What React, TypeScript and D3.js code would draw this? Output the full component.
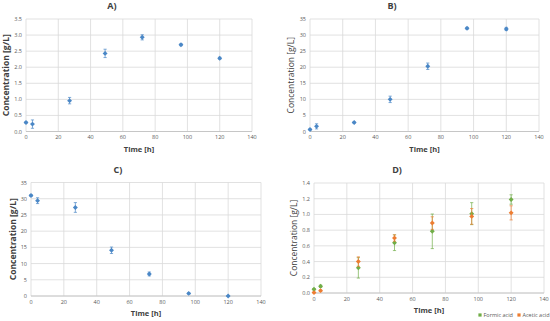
import React from "react";
import * as d3 from "d3";

const times = [0, 4, 27, 49, 72, 96, 120];
const xTicks = [0, 20, 40, 60, 80, 100, 120, 140];

const aValues = [0.28, 0.23, 0.96, 2.43, 2.93, 2.7, 2.28];
const aErrors = [0.02, 0.13, 0.1, 0.13, 0.08, 0.03, 0.03];
const aTicks = [0, 0.5, 1, 1.5, 2, 2.5, 3, 3.5];

const bValues = [0.6, 1.6, 2.8, 10.0, 20.3, 32.1, 31.9];
const bErrors = [0.2, 0.8, 0.2, 1.0, 1.0, 0.3, 0.5];
const bTicks = [0, 5, 10, 15, 20, 25, 30, 35];

const cValues = [31.0, 29.4, 27.3, 14.1, 6.8, 0.8, 0.0];
const cErrors = [0.3, 0.9, 1.5, 1.0, 0.6, 0.2, 0.1];
const cTicks = [0, 5, 10, 15, 20, 25, 30, 35];

const formicValues = [0.047, 0.085, 0.32, 0.64, 0.785, 1.01, 1.19];
const formicErrors = [0.01, 0.015, 0.13, 0.1, 0.22, 0.14, 0.06];
const aceticValues = [0.005, 0.03, 0.4, 0.7, 0.89, 0.975, 1.02];
const aceticErrors = [0.005, 0.01, 0.06, 0.04, 0.08, 0.1, 0.09];
const dTicks = [0, 0.2, 0.4, 0.6, 0.8, 1.0, 1.2, 1.4];

const seriesNames = ["Formic acid", "Acetic acid"];

const BLUE = "#4a87c6";
const GREEN = "#70ad47";
const ORANGE = "#ed7d31";
const GRID = "#d9d9d9";
const TICK = "#595959";
const FONT = "'Open Sans', 'Liberation Sans', sans-serif";

type Series = { values: number[]; errors: number[]; color: string };

function Panel(props: {
  title: string;
  titleX: number;
  titleY: number;
  x0: number;
  x1: number;
  y0: number;
  y1: number;
  yMax: number;
  yTicks: number[];
  yFmt: (v: number) => string;
  series: Series[];
  ylabX: number;
  boldY: boolean;
}) {
  const { x0, x1, y0, y1 } = props;
  const x = d3.scaleLinear().domain([0, 140]).range([x0, x1]);
  const y = d3.scaleLinear().domain([0, props.yMax]).range([y1, y0]);
  const diamond = d3.symbol().type(d3.symbolSquare).size(12)();
  return (
    <g>
      <text x={props.titleX} y={props.titleY} fontSize={9} fontWeight="bold" fill="#404040" textAnchor="middle" fontFamily={FONT}>
        {props.title}
      </text>
      {props.yTicks.map((t) => (
        <line key={"h" + t} x1={x0} x2={x1} y1={y(t)} y2={y(t)} stroke={GRID} strokeWidth={0.8} />
      ))}
      {xTicks.map((t) => (
        <line key={"v" + t} x1={x(t)} x2={x(t)} y1={y0} y2={y1} stroke={GRID} strokeWidth={0.8} />
      ))}
      <line x1={x0} x2={x1} y1={y1} y2={y1} stroke="#bfbfbf" strokeWidth={0.8} />
      {props.yTicks.map((t) => (
        <text key={"yl" + t} x={x0 - 4} y={y(t) + 2} fontSize={5.5} fill={TICK} textAnchor="end" fontFamily={FONT}>
          {props.yFmt(t)}
        </text>
      ))}
      {xTicks.map((t) => (
        <text key={"xl" + t} x={x(t)} y={y1 + 7.5} fontSize={5.5} fill={TICK} textAnchor="middle" fontFamily={FONT}>
          {t}
        </text>
      ))}
      <text x={(x0 + x1) / 2} y={y1 + 20} fontSize={7.5} fontWeight="bold" fill="#404040" textAnchor="middle" fontFamily={FONT}>
        Time [h]
      </text>
      <text
        transform={`translate(${props.ylabX},${(y0 + y1) / 2}) rotate(-90)`}
        fontSize={8.5}
        fontWeight={props.boldY ? "bold" : "normal"}
        fill="#404040"
        textAnchor="middle"
        fontFamily={FONT}
      >
        Concentration [g/L]
      </text>
      {props.series.map((s, si) => (
        <g key={"s" + si}>
          {times.map((t, i) => {
            const cx = x(t);
            const lo = y(s.values[i] - s.errors[i]);
            const hi = y(s.values[i] + s.errors[i]);
            return (
              <g key={i}>
                <line x1={cx} x2={cx} y1={lo} y2={hi} stroke={s.color} strokeWidth={0.7} />
                <line x1={cx - 1.6} x2={cx + 1.6} y1={lo} y2={lo} stroke={s.color} strokeWidth={0.7} />
                <line x1={cx - 1.6} x2={cx + 1.6} y1={hi} y2={hi} stroke={s.color} strokeWidth={0.7} />
                <path d={diamond!} transform={`translate(${cx},${y(s.values[i])}) rotate(45)`} fill={s.color} />
              </g>
            );
          })}
        </g>
      ))}
    </g>
  );
}

export default function App() {
  const f1 = (v: number) => v.toFixed(1);
  const f0 = (v: number) => String(v);
  return (
    <svg width={550} height={321} style={{ position: "absolute", left: 0, top: 0, background: "#fff" }}>
      <Panel title="A)" titleX={112} titleY={9} x0={26} x1={252} y0={19} y1={131.5} yMax={3.5} yTicks={aTicks} yFmt={f1}
        series={[{ values: aValues, errors: aErrors, color: BLUE }]} ylabX={9} boldY={true} />
      <Panel title="B)" titleX={392} titleY={9} x0={310} x1={539} y0={19} y1={131.5} yMax={35} yTicks={bTicks} yFmt={f0}
        series={[{ values: bValues, errors: bErrors, color: BLUE }]} ylabX={294} boldY={false} />
      <Panel title="C)" titleX={118} titleY={173} x0={31} x1={261} y0={182.5} y1={296} yMax={35} yTicks={cTicks} yFmt={f0}
        series={[{ values: cValues, errors: cErrors, color: BLUE }]} ylabX={16} boldY={true} />
      <Panel title="D)" titleX={397} titleY={173} x0={314} x1={544} y0={183} y1={293} yMax={1.4} yTicks={dTicks} yFmt={f1}
        series={[
          { values: formicValues, errors: formicErrors, color: GREEN },
          { values: aceticValues, errors: aceticErrors, color: ORANGE },
        ]} ylabX={297} boldY={false} />
      {seriesNames.map((n, i) => (
        <g key={n} transform={`translate(${480 + i * 39},315)`}>
          <rect x={-1.6} y={-1.6} width={3.2} height={3.2} fill={i === 0 ? GREEN : ORANGE} />
          <text x={3.5} y={2} fontSize={5.5} fill={TICK} fontFamily={FONT}>{n}</text>
        </g>
      ))}
    </svg>
  );
}
